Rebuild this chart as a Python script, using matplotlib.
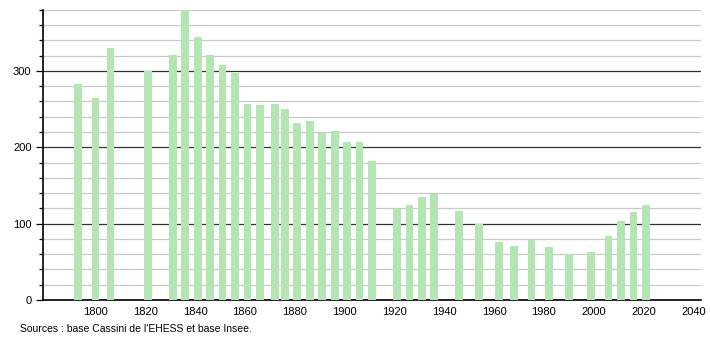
import matplotlib.pyplot as plt
import numpy as np
from matplotlib.ticker import MultipleLocator

years = [1793, 1800, 1806, 1821, 1831, 1836, 1841, 1846, 1851, 1856,
         1861, 1866, 1872, 1876, 1881, 1886, 1891, 1896, 1901, 1906,
         1911, 1921, 1926, 1931, 1936, 1946, 1954, 1962, 1968, 1975,
         1982, 1990, 1999, 2006, 2011, 2016, 2021]
population = [283, 264, 330, 300, 321, 381, 344, 321, 308, 297,
              257, 255, 257, 250, 232, 235, 219, 221, 207, 207,
              182, 119, 124, 135, 139, 116, 100, 76, 71, 78,
              69, 60, 63, 84, 104, 115, 124]
xticks = [1800, 1820, 1840, 1860, 1880, 1900, 1920, 1940, 1960, 1980, 2000, 2020, 2040]

plt.rcParams['font.family'] = ['Liberation Sans', 'DejaVu Sans']

fig = plt.figure(figsize=(7.1, 3.4), dpi=100)
ax = fig.add_axes([0.061, 0.118, 0.926, 0.853])

ax.bar(years, population, width=3.1, color='#b3e6b3', zorder=3)

ax.set_xlim(1779, 2043)
ax.set_ylim(0, 380)
ax.yaxis.set_major_locator(MultipleLocator(100))
ax.yaxis.set_minor_locator(MultipleLocator(20))
ax.grid(which='minor', axis='y', color='#c8c8c8', linewidth=0.9, zorder=1)
ax.grid(which='major', axis='y', color='#333333', linewidth=0.9, zorder=2)
ax.set_xticks(xticks)
ax.tick_params(axis='x', length=0, labelsize=8, pad=5)
ax.tick_params(axis='y', which='major', length=5, labelsize=8, width=0.9)
ax.tick_params(axis='y', which='minor', length=3, width=0.9)

for s in ['top', 'right']:
    ax.spines[s].set_visible(False)
ax.spines['left'].set_linewidth(1.2)
ax.spines['bottom'].set_linewidth(1.2)

fig.text(0.028, 0.025, "Sources : base Cassini de l'EHESS et base Insee.", fontsize=7.5)

fig.savefig('out.png', dpi=100)
